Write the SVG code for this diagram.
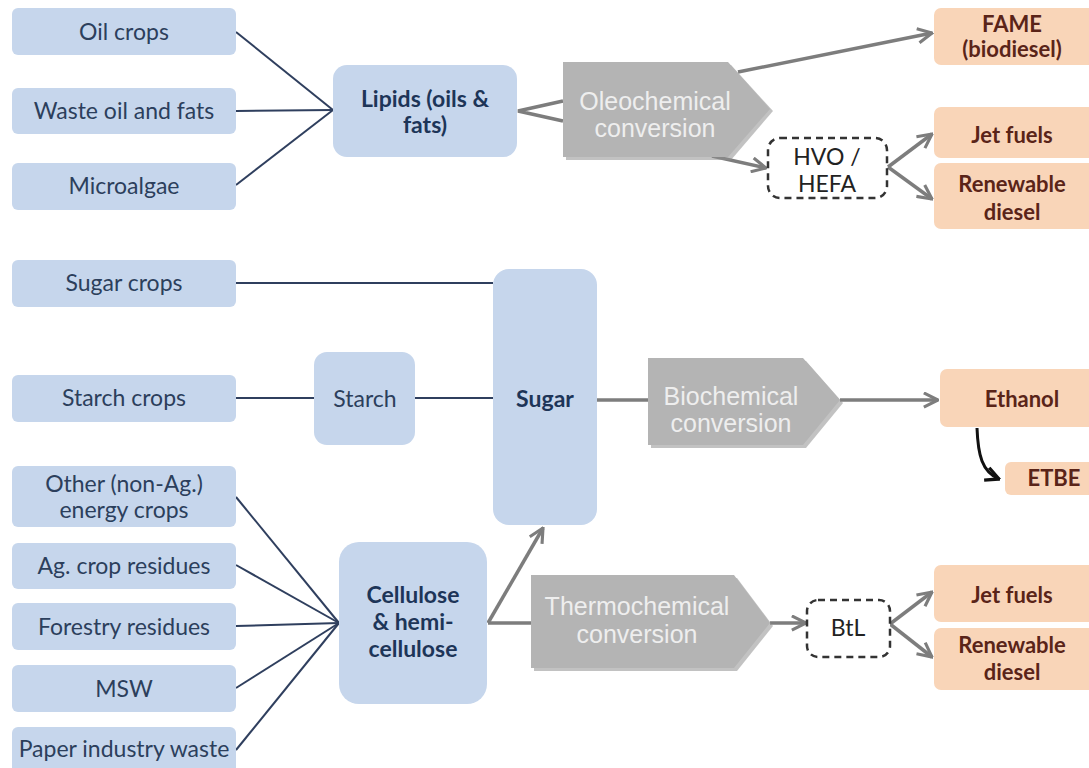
<svg xmlns="http://www.w3.org/2000/svg" width="1089" height="768" viewBox="0 0 1089 768">
<defs>
<style>
.src{fill:#c6d6ec;}
.mid{fill:#c6d6ec;}
.prod{fill:#f9d5b8;}
.conv{fill:#b4b4b4;}
.shadow{fill:#8f8f8f;opacity:0.55;}
.dash{fill:#ffffff;stroke:#333333;stroke-width:2.5;stroke-dasharray:7 5;}
.t{font-family:Lato,"Noto Sans",sans-serif;font-size:23px;fill:#2c3f5c;text-anchor:middle;}
.tb{font-family:Lato,"Noto Sans",sans-serif;font-size:23px;font-weight:bold;fill:#1d3558;text-anchor:middle;}
.tp{font-family:Lato,"Noto Sans",sans-serif;font-size:22px;font-weight:bold;fill:#5a2418;text-anchor:middle;}
.td{font-family:Lato,"Noto Sans",sans-serif;font-size:23px;fill:#222222;text-anchor:middle;}
.tc{font-family:"Liberation Sans",Arial,sans-serif;font-size:25px;fill:#eeeeee;text-anchor:middle;}
.in{stroke:#2f3f5e;stroke-width:2;fill:none;}
.g{stroke:#7d7d7d;stroke-width:3.5;fill:none;}
.ga{stroke:#7d7d7d;stroke-width:3.5;fill:none;marker-end:url(#ah);}
</style>
<marker id="ah" viewBox="0 0 12 12" refX="11" refY="6" markerWidth="17" markerHeight="17" markerUnits="userSpaceOnUse" orient="auto">
<path d="M1,1 L11,6 L1,11" fill="none" stroke="#7d7d7d" stroke-width="2.2"/>
</marker>
<marker id="ahb" viewBox="0 0 12 12" refX="11" refY="6" markerWidth="16" markerHeight="20" markerUnits="userSpaceOnUse" orient="auto">
<path d="M1,1 L11,6 L1,11" fill="none" stroke="#111111" stroke-width="2.5"/>
</marker>
</defs>
<rect width="1089" height="768" fill="#ffffff"/>

<g id="connectors">
<line class="in" x1="236" y1="32" x2="333" y2="110"/>
<line class="in" x1="236" y1="111" x2="333" y2="110"/>
<line class="in" x1="236" y1="185" x2="333" y2="110"/>
<line class="in" x1="236" y1="283" x2="493" y2="283"/>
<line class="in" x1="236" y1="398" x2="314" y2="398"/>
<line class="in" x1="415" y1="398" x2="493" y2="398"/>
<line class="in" x1="236" y1="497" x2="339" y2="623"/>
<line class="in" x1="236" y1="565" x2="339" y2="623"/>
<line class="in" x1="236" y1="626" x2="339" y2="623"/>
<line class="in" x1="236" y1="688" x2="339" y2="623"/>
<line class="in" x1="236" y1="750" x2="339" y2="623"/>
<polyline class="g" points="563,101 518,111 563,121"/>
<line class="ga" x1="738" y1="72" x2="932" y2="33"/>
<line class="ga" x1="712" y1="156" x2="766" y2="168"/>
<line class="ga" x1="888" y1="167" x2="932" y2="134"/>
<line class="ga" x1="888" y1="167" x2="932" y2="199"/>
<line class="g" x1="597" y1="400" x2="648" y2="400"/>
<line class="ga" x1="840" y1="400" x2="938" y2="400"/>
<path d="M977,428 C978,455 982,472 999,479" fill="none" stroke="#111111" stroke-width="3" marker-end="url(#ahb)"/>
<line class="g" x1="488" y1="623" x2="531" y2="623"/>
<line class="ga" x1="488" y1="623" x2="543" y2="528"/>
<line class="ga" x1="770" y1="623" x2="806" y2="623"/>
<line class="ga" x1="890" y1="624" x2="932" y2="592"/>
<line class="ga" x1="890" y1="624" x2="932" y2="657"/>
</g>

<g id="oil-crops"><rect class="src" x="12" y="8" width="224" height="47" rx="6"/><text class="t" x="124" y="40">Oil crops</text></g>
<g id="waste-oil"><rect class="src" x="12" y="88" width="224" height="46" rx="6"/><text class="t" x="124" y="119">Waste oil and fats</text></g>
<g id="microalgae"><rect class="src" x="12" y="163" width="224" height="47" rx="6"/><text class="t" x="124" y="194">Microalgae</text></g>
<g id="sugar-crops"><rect class="src" x="12" y="260" width="224" height="47" rx="6"/><text class="t" x="124" y="291">Sugar crops</text></g>
<g id="starch-crops"><rect class="src" x="12" y="375" width="224" height="47" rx="6"/><text class="t" x="124" y="406">Starch crops</text></g>
<g id="other-crops"><rect class="src" x="12" y="466" width="224" height="61" rx="6"/><text class="t" x="124" y="492">Other (non-Ag.)</text><text class="t" x="124" y="518">energy crops</text></g>
<g id="ag-residues"><rect class="src" x="12" y="543" width="224" height="46" rx="6"/><text class="t" x="124" y="574">Ag. crop residues</text></g>
<g id="forestry"><rect class="src" x="12" y="603" width="224" height="47" rx="6"/><text class="t" x="124" y="635">Forestry residues</text></g>
<g id="msw"><rect class="src" x="12" y="665" width="224" height="47" rx="6"/><text class="t" x="124" y="697">MSW</text></g>
<g id="paper"><rect class="src" x="12" y="727" width="224" height="50" rx="6"/><text class="t" x="124" y="757">Paper industry waste</text></g>

<g id="lipids"><rect class="mid" x="333" y="65" width="184" height="92" rx="14"/><text class="tb" x="425" y="107">Lipids (oils &amp;</text><text class="tb" x="425" y="133">fats)</text></g>
<g id="starch"><rect class="mid" x="314" y="352" width="101" height="93" rx="13"/><text class="t" x="365" y="407">Starch</text></g>
<g id="sugar"><rect class="mid" x="493" y="269" width="104" height="256" rx="16"/><text class="tb" x="545" y="407">Sugar</text></g>
<g id="cellulose"><rect class="mid" x="339" y="542" width="148" height="162" rx="20"/><text class="tb" x="413" y="603">Cellulose</text><text class="tb" x="413" y="630">&amp; hemi-</text><text class="tb" x="413" y="657">cellulose</text></g>

<g id="oleochemical"><path class="shadow" d="M566,65 L731,65 L773,111 L731,160 L566,160 Z"/><path class="conv" d="M563,62 L728,62 L770,109 L728,157 L563,157 Z"/><text class="tc" x="655" y="110">Oleochemical</text><text class="tc" x="655" y="137">conversion</text></g>
<g id="biochemical"><path class="shadow" d="M651,361 L806,361 L843,403 L806,448 L651,448 Z"/><path class="conv" d="M648,358 L803,358 L840,400 L803,445 L648,445 Z"/><text class="tc" x="731" y="405">Biochemical</text><text class="tc" x="731" y="432">conversion</text></g>
<g id="thermochemical"><path class="shadow" d="M534,578 L737,578 L773,626 L737,671 L534,671 Z"/><path class="conv" d="M531,575 L734,575 L770,623 L734,668 L531,668 Z"/><text class="tc" x="637" y="615">Thermochemical</text><text class="tc" x="637" y="643">conversion</text></g>

<g id="hvo-hefa"><rect class="dash" x="768" y="138" width="119" height="60" rx="12"/><text class="td" x="827" y="165">HVO /</text><text class="td" x="827" y="192">HEFA</text></g>
<g id="btl"><rect class="dash" x="807" y="600" width="83" height="57" rx="11"/><text class="td" x="848" y="636">BtL</text></g>

<g id="fame"><rect class="prod" x="934" y="8" width="170" height="57" rx="7"/><text class="tp" x="1012" y="32">FAME</text><text class="tp" x="1012" y="57">(biodiesel)</text></g>
<g id="jet-fuels-1"><rect class="prod" x="934" y="107" width="170" height="51" rx="7"/><text class="tp" x="1012" y="143">Jet fuels</text></g>
<g id="renewable-diesel-1"><rect class="prod" x="934" y="163" width="170" height="66" rx="7"/><text class="tp" x="1012" y="192">Renewable</text><text class="tp" x="1012" y="220">diesel</text></g>
<g id="ethanol"><rect class="prod" x="940" y="369" width="160" height="58" rx="7"/><text class="tp" x="1022" y="407">Ethanol</text></g>
<g id="etbe"><rect class="prod" x="1005" y="462" width="95" height="33" rx="6"/><text class="tp" x="1054" y="486">ETBE</text></g>
<g id="jet-fuels-2"><rect class="prod" x="934" y="565" width="170" height="57" rx="7"/><text class="tp" x="1012" y="603">Jet fuels</text></g>
<g id="renewable-diesel-2"><rect class="prod" x="934" y="628" width="170" height="62" rx="7"/><text class="tp" x="1012" y="653">Renewable</text><text class="tp" x="1012" y="680">diesel</text></g>
</svg>
